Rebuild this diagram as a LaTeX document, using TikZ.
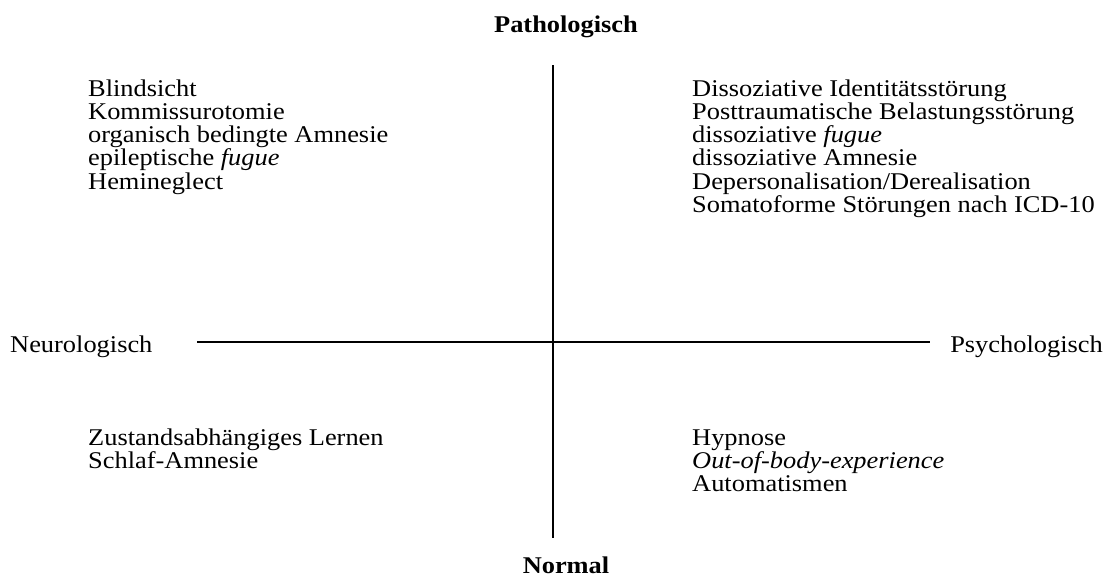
\documentclass[tikz,border=0pt]{standalone}
\usepackage{fontspec}
\setmainfont[FakeStretch=1.1]{Liberation Serif}
\usetikzlibrary{positioning}

\begin{document}
\begin{tikzpicture}[x=1pt, y=-1pt, line cap=butt, inner sep=0pt,]
   \tikzstyle{every node}=[font=\fontsize{24}{23.3}\selectfont]
   \tikzstyle{entry}=[anchor=base west]
   \tikzstyle{pole}=[anchor=base, font=\fontsize{24}{23.3}\selectfont\bfseries]
   \tikzstyle{axis}=[line width=2.6pt]

   \useasboundingbox (0,0) rectangle (1109,579);

   % axes
   \coordinate (top) at (553,65);
   \coordinate (bottom) at (553,538);
   \coordinate (left) at (197,342);
   \coordinate (right) at (930,342);

   \node[pole] (patho) at (566,32) {Pathologisch};
   \node[pole] (normal) at (566,573) {Normal};
   \node[entry] (neuro) at (10,352) {Neurologisch};
   \node[anchor=base east] (psycho) at (1103,352) {Psychologisch};

   % quadrants
   \foreach \t [count=\i] in {Blindsicht, Kommissurotomie, organisch bedingte Amnesie,
      {epileptische \textit{fugue}}, Hemineglect}
      \node[entry] (nl\i) at (88,{96+23.3*(\i-1)}) {\t};

   \foreach \t [count=\i] in {Dissoziative Identitätsstörung, Posttraumatische Belastungsstörung,
      {dissoziative \textit{fugue}}, dissoziative Amnesie, Depersonalisation/Derealisation,
      Somatoforme Störungen nach ICD-10}
      \node[entry] (pp\i) at (692,{96+23.3*(\i-1)}) {\t};

   \foreach \t [count=\i] in {Zustandsabhängiges Lernen, Schlaf-Amnesie}
      \node[entry] (nn\i) at (88,{445+23.3*(\i-1)}) {\t};

   \foreach \t [count=\i] in {Hypnose, \textit{Out-of-body-experience}, Automatismen}
      \node[entry] (pn\i) at (692,{445+23.3*(\i-1)}) {\t};

   \draw[axis] (top) -- (bottom);
   \draw[axis] (left) -- (right);
 \end{tikzpicture}
\end{document}
